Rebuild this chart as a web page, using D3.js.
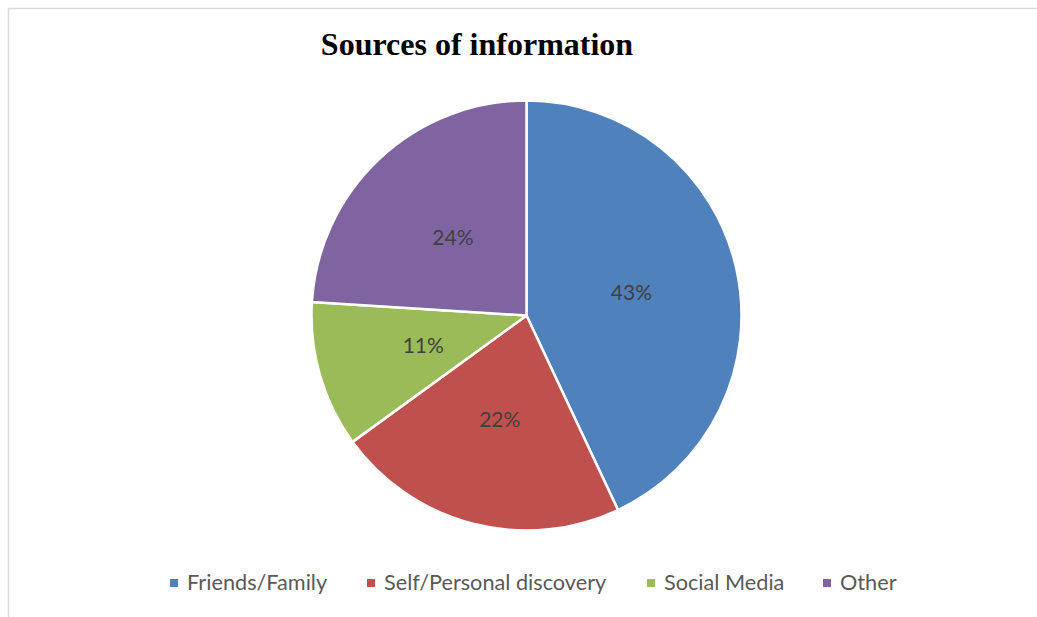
<!DOCTYPE html>
<html>
<head>
<meta charset="utf-8">
<script src="https://cdn.jsdelivr.net/npm/d3@7"></script>
<style>
  html, body { margin: 0; padding: 0; background: #fff; }
  svg { display: block; }
</style>
</head>
<body>
<svg id="chart" width="1037" height="617"></svg>
<script>
// Share of respondents by source of information (percent)
const categories = ["Friends/Family", "Self/Personal discovery", "Social Media", "Other"];
const values = [43, 22, 11, 24];
const colors = ["#4f81bd", "#c0504d", "#9bbb59", "#8064a2"];
const title = "Sources of information";

const svg = d3.select("#chart");
const W = 1037, H = 617;

// chart frame
svg.append("rect")
  .attr("x", 8.5).attr("y", 8.5)
  .attr("width", W + 10).attr("height", H + 10)
  .attr("fill", "#fff")
  .attr("stroke", "#d9d9d9")
  .attr("stroke-width", 1.5);

svg.append("text")
  .attr("x", 477).attr("y", 55)
  .attr("text-anchor", "middle")
  .attr("font-family", "'Liberation Serif', 'Times New Roman', serif")
  .attr("font-weight", "bold")
  .attr("font-size", 32)
  .attr("fill", "#000")
  .text(title);

const cx = 526.5, cy = 315.5, r = 215;
const data = categories.map((c, i) => ({ name: c, value: values[i], color: colors[i] }));

const pie = d3.pie().value(d => d.value).sort(null);
const arc = d3.arc().innerRadius(0).outerRadius(r);

const g = svg.append("g").attr("transform", `translate(${cx},${cy})`);
const arcs = pie(data);

g.selectAll("path.slice")
  .data(arcs)
  .join("path")
  .attr("class", "slice")
  .attr("d", arc)
  .attr("fill", d => d.data.color)
  .attr("stroke", "#fff")
  .attr("stroke-width", 2.5)
  .attr("stroke-linejoin", "round");

g.selectAll("text.lbl")
  .data(arcs)
  .join("text")
  .attr("class", "lbl")
  .attr("transform", d => `translate(${arc.centroid(d)})`)
  .attr("text-anchor", "middle")
  .attr("dy", "0.36em")
  .attr("font-family", "Lato, 'Open Sans', sans-serif")
  .attr("font-size", 21)
  .attr("fill", "#404040")
  .text(d => d3.format(".0%")(d.data.value / 100));

// legend
const legendX = [170, 367, 647, 823];
const lg = svg.append("g").attr("class", "legend");
const items = lg.selectAll("g")
  .data(data)
  .join("g")
  .attr("transform", (d, i) => `translate(${legendX[i]},0)`);

items.append("rect")
  .attr("x", 0).attr("y", 579)
  .attr("width", 8).attr("height", 8)
  .attr("fill", d => d.color);

items.append("text")
  .attr("x", 17).attr("y", 590)
  .attr("font-family", "Lato, 'Open Sans', sans-serif")
  .attr("font-size", 21.7)
  .attr("fill", "#595959")
  .text(d => d.name);
</script>
</body>
</html>
